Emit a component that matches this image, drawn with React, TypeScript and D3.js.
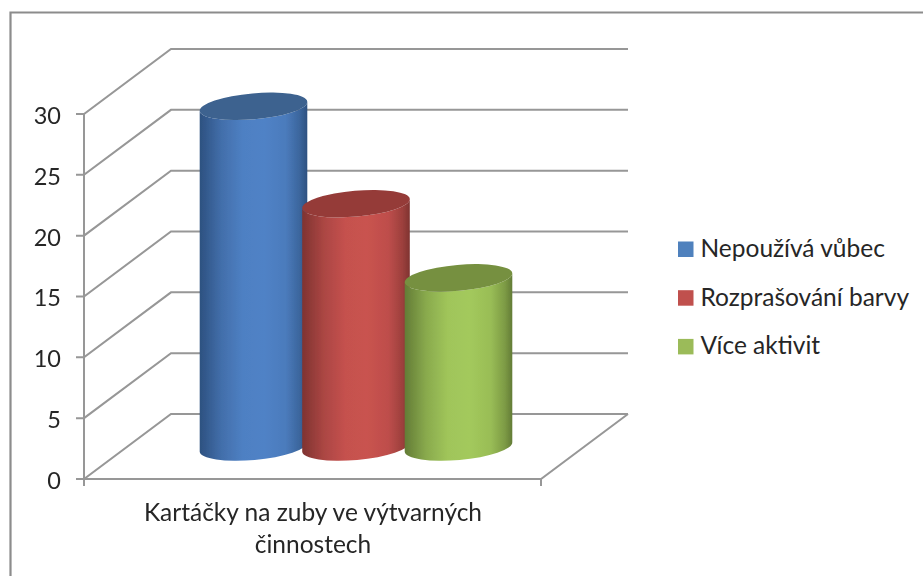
import React from "react";
import * as d3 from "d3";

const seriesNames = ["Nepoužívá vůbec", "Rozprašování barvy", "Více aktivit"];
const seriesValues = [28, 20, 13.9];
const categoryLines = ["Kartáčky na zuby ve výtvarných", "činnostech"];
const ticks = [0, 5, 10, 15, 20, 25, 30];
const palette = [
  { edge: "#2d5180", mid: "#5082c6", top: "#3c628f", swatch: "#4f81bd" },
  { edge: "#7f3331", mid: "#c9534f", top: "#953b39", swatch: "#c0504d" },
  { edge: "#637c36", mid: "#a3c95c", top: "#76903f", swatch: "#9bbb59" },
];

const FONT = "Lato, 'Open Sans', sans-serif";
const TEXT = "#262626";
const GRID = "#979797";

export default function App() {
  const y = d3.scaleLinear().domain([0, 30]).range([479, 114]);
  const x = d3.scalePoint<string>().domain(seriesNames).range([253.5, 458.5]);
  const front = { l: 84, r: 541 };
  const depth = { dx: 87, dy: -65 };
  const baseOffset = -32;
  const rx = 54;
  const ry = 13;
  const rot = -5;
  const cos = Math.cos((rot * Math.PI) / 180);
  const sin = Math.sin((rot * Math.PI) / 180);

  return (
    <svg
      width={923}
      height={576}
      style={{ position: "absolute", left: 0, top: 0, background: "#fff" }}
      fontFamily={FONT}
    >
      <defs>
        {palette.map((p, i) => {
          const mix = d3.interpolateRgb(p.edge, p.mid);
          return (
            <linearGradient key={i} id={`g${i}`} x1="0" x2="1" y1="0" y2="0">
              <stop offset="0" stopColor={p.edge} />
              <stop offset="0.2" stopColor={mix(0.6)} />
              <stop offset="0.4" stopColor={mix(0.95)} />
              <stop offset="0.6" stopColor={p.mid} />
              <stop offset="0.8" stopColor={mix(0.85)} />
              <stop offset="0.93" stopColor={mix(0.4)} />
              <stop offset="1" stopColor={p.edge} />
            </linearGradient>
          );
        })}
        <filter id="soft" x="-5%" y="-5%" width="110%" height="110%">
          <feGaussianBlur stdDeviation="0.4" />
        </filter>
      </defs>

      <path d="M10.5,590 V12.5 H930" fill="none" stroke="#8c8c8c" strokeWidth={2.2} />

      <g fill="none" stroke={GRID} strokeWidth={2}>
        {ticks.map((t) => (
          <path
            key={t}
            d={`M${front.l - 8},${y(t)} H${front.l} L${front.l + depth.dx},${y(t) + depth.dy} H${front.r + depth.dx}`}
          />
        ))}
        <path d={`M${front.l},${y(30)} V${y(0) + 7}`} />
        <path d={`M${front.l},${y(0)} H${front.r} L${front.r + depth.dx},${y(0) + depth.dy}`} />
        <path d={`M${front.r},${y(0)} V${y(0) + 7}`} />
      </g>

      <g filter="url(#soft)">
        {seriesNames.map((name, i) => {
          const cx = x(name)!;
          const by = y(0) + baseOffset;
          const ty = y(seriesValues[i]) + baseOffset;
          const ax = rx * cos;
          const ay = rx * sin;
          const body = `M${cx - ax},${ty - ay} L${cx - ax},${by - ay} A${rx},${ry} ${rot} 0 0 ${cx + ax},${by + ay} L${cx + ax},${ty + ay} A${rx},${ry} ${rot} 0 1 ${cx - ax},${ty - ay} Z`;
          return (
            <g key={name}>
              <path d={body} fill={`url(#g${i})`} />
              <ellipse
                cx={cx}
                cy={ty}
                rx={rx}
                ry={ry}
                fill={palette[i].top}
                transform={`rotate(${rot} ${cx} ${ty})`}
              />
            </g>
          );
        })}
      </g>

      <g fontSize={23.5} fill={TEXT} textAnchor="end">
        {ticks.map((t) => (
          <text key={t} x={61} y={y(t)} dy="0.42em">
            {t}
          </text>
        ))}
      </g>

      <g fontSize={24.5} fill={TEXT} textAnchor="middle">
        {categoryLines.map((l, i) => (
          <text key={l} x={313} y={521 + i * 32}>
            {l}
          </text>
        ))}
      </g>

      <g>
        {seriesNames.map((name, i) => (
          <g key={name} transform={`translate(678,${241.5 + i * 48.7})`}>
            <rect width={15.5} height={15.5} fill={palette[i].swatch} />
            <text x={22.5} y={15.5} fontSize={24.5} fill={TEXT}>
              {name}
            </text>
          </g>
        ))}
      </g>
    </svg>
  );
}
